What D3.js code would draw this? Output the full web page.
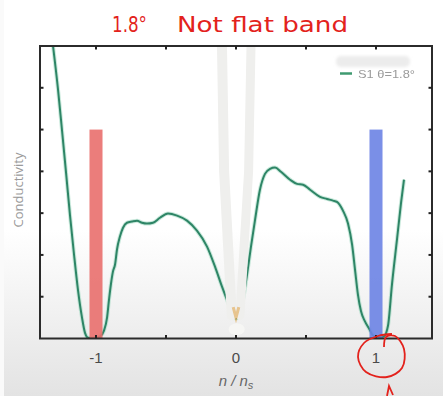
<!DOCTYPE html>
<html><head><meta charset="utf-8">
<script src="https://cdn.jsdelivr.net/npm/d3@7"></script>
<style>html,body{margin:0;padding:0;background:#fff;}svg{display:block;}</style>
</head><body>
<svg id="c" width="443" height="396"></svg>
<script>
// ---- data ----
const curveX = [-1.307,-1.271,-1.243,-1.214,-1.186,-1.157,-1.129,-1.100,-1.079,-1.057,-1.007,-0.971,-0.943,-0.921,-0.907,-0.893,-0.879,-0.864,-0.850,-0.829,-0.807,-0.779,-0.743,-0.707,-0.671,-0.636,-0.593,-0.543,-0.486,-0.421,-0.350,-0.279,-0.207,-0.150,-0.100,-0.057,-0.021,0.000,0.021,0.050,0.079,0.107,0.136,0.171,0.207,0.243,0.279,0.321,0.386,0.436,0.479,0.529,0.600,0.650,0.693,0.721,0.764,0.800,0.829,0.850,0.871,0.893,0.921,0.950,0.979,1.014,1.057,1.086,1.114,1.150,1.179,1.200];
const curveY = [7.0,5.95,4.99,3.97,2.96,2.01,1.17,0.50,0.14,0.02,0.01,0.05,0.19,0.50,0.93,1.31,1.60,1.77,2.13,2.44,2.65,2.77,2.80,2.82,2.77,2.75,2.77,2.89,2.99,2.94,2.82,2.58,2.20,1.72,1.24,0.86,0.57,0.48,0.55,0.93,1.53,2.20,2.84,3.56,3.94,4.06,4.09,3.99,3.80,3.70,3.68,3.56,3.39,3.34,3.30,3.27,3.06,2.75,2.25,1.65,1.05,0.65,0.41,0.24,0.07,0.02,0.05,0.31,1.29,2.37,3.25,3.80];
const barCenters = [-1, 1];
const barHeights = [5, 5];
const barColors = ["#e96f6d", "#6b83e4"];
const xTickValues = [-1, -0.5, 0, 0.5, 1];
const xTickLabels = {"-1": "-1", "0": "0", "1": "1"};
const yTickValues = [1, 2, 3, 4, 5, 6];
const legendLabel = "S1 θ=1.8°";
const titleA = "1.8°";
const titleB = "Not flat band";

// ---- layout ----
const svg = d3.select("#c");
const L = 40, R = 432, T = 46, B = 338.5;
const x = d3.scaleLinear().domain([-1.4, 1.4]).range([L, R]);
const y = d3.scaleLinear().domain([0, 7]).range([B, T]);

// background gradient (screenshot look)
const defs = svg.append("defs");
const g0 = defs.append("linearGradient").attr("id","bg").attr("x1",0).attr("y1",0).attr("x2",0).attr("y2",1);
g0.append("stop").attr("offset","0").attr("stop-color","#ffffff");
g0.append("stop").attr("offset","0.58").attr("stop-color","#ffffff");
g0.append("stop").attr("offset","1").attr("stop-color","#e3e3e3");
svg.append("rect").attr("x",0).attr("y",0).attr("width",443).attr("height",396).attr("fill","url(#bg)");
svg.append("rect").attr("x",0).attr("y",0).attr("width",4).attr("height",396).attr("fill","#fafafa");
const blur = defs.append("filter").attr("id","bl").attr("x","-20%").attr("y","-50%").attr("width","140%").attr("height","200%");
blur.append("feGaussianBlur").attr("stdDeviation",1.6);
const blur2 = defs.append("filter").attr("id","bl2").attr("x","-20%").attr("y","-100%").attr("width","140%").attr("height","300%");
blur2.append("feGaussianBlur").attr("stdDeviation",0.45);
defs.append("clipPath").attr("id","clip").append("rect").attr("x",L).attr("y",T).attr("width",R-L).attr("height",B-T);

// curve
const pts = curveX.map((v,i)=>[v, curveY[i]]);
const line = d3.line().x(d=>x(d[0])).y(d=>y(d[1])).curve(d3.curveMonotoneX);
const plot = svg.append("g").attr("clip-path","url(#clip)");
plot.append("path").datum(pts).attr("d",line).attr("fill","none").attr("stroke","#a8dcc6").attr("stroke-width",4).attr("opacity",0.6);
plot.append("path").datum(pts).attr("d",line).attr("fill","none").attr("stroke","#2e8566").attr("stroke-width",2).attr("stroke-linejoin","round");

// bars
const bw = 0.093;
plot.selectAll("rect.bar").data(barCenters).join("rect").attr("class","bar")
  .attr("x",d=>x(d-bw/2)).attr("width",x(bw)-x(0))
  .attr("y",(d,i)=>y(barHeights[i])).attr("height",(d,i)=>y(0)-y(barHeights[i]))
  .attr("fill",(d,i)=>barColors[i]).attr("opacity",0.9);

// hand-drawn white brush strokes over centre (annotation)
const strokeL = [[-0.100,6.96],[-0.085,4.0],[-0.030,0.55]];
const strokeR = [[0.107,6.96],[0.090,4.0],[0.028,0.55]];
const sl = d3.line().x(d=>x(d[0])).y(d=>y(d[1]));
plot.append("path").attr("d",sl(strokeL)).attr("stroke","#efefed").attr("stroke-width",10).attr("stroke-linecap","round").attr("fill","none");
plot.append("path").attr("d",sl(strokeR)).attr("stroke","#efefed").attr("stroke-width",9).attr("stroke-linecap","round").attr("fill","none");
plot.append("path").attr("d",sl([[-0.02,0.75],[0.0,0.5],[0.02,0.75]])).attr("stroke","#e0a040").attr("stroke-width",3).attr("fill","none").attr("opacity",0.55);
plot.append("ellipse").attr("cx",x(0.005)).attr("cy",y(0.22)).attr("rx",8).attr("ry",6).attr("fill","#f6f6f4");

// axes frame
const fr = svg.append("g");
fr.append("rect").attr("x",L).attr("y",T).attr("width",R-L).attr("height",B-T).attr("fill","none").attr("stroke","#2b2b2b").attr("stroke-width",2);
const tick = 3.5;
xTickValues.forEach(v=>{
  fr.append("line").attr("x1",x(v)).attr("x2",x(v)).attr("y1",T).attr("y2",T+tick).attr("stroke","#222").attr("stroke-width",2);
  fr.append("line").attr("x1",x(v)).attr("x2",x(v)).attr("y1",B).attr("y2",B-tick).attr("stroke","#222").attr("stroke-width",2);
});
yTickValues.forEach(v=>{
  fr.append("line").attr("x1",L).attr("x2",L+tick).attr("y1",y(v)).attr("y2",y(v)).attr("stroke","#222").attr("stroke-width",2);
  fr.append("line").attr("x1",R).attr("x2",R-tick).attr("y1",y(v)).attr("y2",y(v)).attr("stroke","#222").attr("stroke-width",2);
});

// tick labels
xTickValues.filter(v=>xTickLabels[String(v)]!==undefined).forEach(v=>{
  svg.append("text").attr("x",x(v)).attr("y",363).attr("text-anchor","middle")
    .attr("font-family","Liberation Sans, Arial, sans-serif").attr("font-size",15).attr("fill","#4a4a4a")
    .text(xTickLabels[String(v)]);
});
// x label
const xl = svg.append("text").attr("x",x(0)).attr("y",386).attr("text-anchor","middle")
  .attr("font-family","Liberation Sans, Arial, sans-serif").attr("font-size",15).attr("font-style","italic").attr("fill","#666");
xl.append("tspan").text("n / n");
xl.append("tspan").attr("font-size",11).attr("dy",3).text("s");
// y label
svg.append("text").attr("transform","translate(23,190) rotate(-90)").attr("text-anchor","middle")
  .attr("font-family","Open Sans, sans-serif").attr("font-size",13).attr("fill","#9a9a9a").text("Conductivity");

// legend
svg.append("rect").attr("x",336).attr("y",56).attr("width",74).attr("height",11).attr("rx",5).attr("fill","#ececec").attr("filter","url(#bl)");
svg.append("line").attr("x1",340).attr("x2",352).attr("y1",73.5).attr("y2",73.5).attr("stroke","#3f9a70").attr("stroke-width",2.5);
svg.append("text").attr("x",358).attr("y",77.5).attr("font-family","Liberation Sans, Arial, sans-serif").attr("font-size",11)
  .attr("fill","#9a9a9a").attr("textLength",57).attr("lengthAdjust","spacingAndGlyphs").attr("filter","url(#bl2)").text(legendLabel);

// red handwritten title
svg.append("text").attr("x",112).attr("y",32).attr("font-family","DejaVu Sans, sans-serif").attr("font-size",21).attr("fill","#e3221c")
  .attr("textLength",35).attr("lengthAdjust","spacingAndGlyphs").text(titleA);
svg.append("text").attr("x",177).attr("y",32).attr("font-family","DejaVu Sans, sans-serif").attr("font-size",21).attr("fill","#e3221c")
  .attr("textLength",171).attr("lengthAdjust","spacingAndGlyphs").text(titleB);

// red circle annotation around "1"
const circ = [[384,347],[386,337],[395,336],[404,349],[402,368],[387,377],[366,372],[358,357],[364,343],[378,336],[392,334]];
svg.append("path").attr("d",d3.line().curve(d3.curveCatmullRom)(circ)).attr("fill","none").attr("stroke","#e3221c").attr("stroke-width",1.8);
svg.append("path").attr("d",d3.line()([[387,396],[389,386],[393,395]])).attr("fill","none").attr("stroke","#e3221c").attr("stroke-width",1.8);
</script>
</body></html>
